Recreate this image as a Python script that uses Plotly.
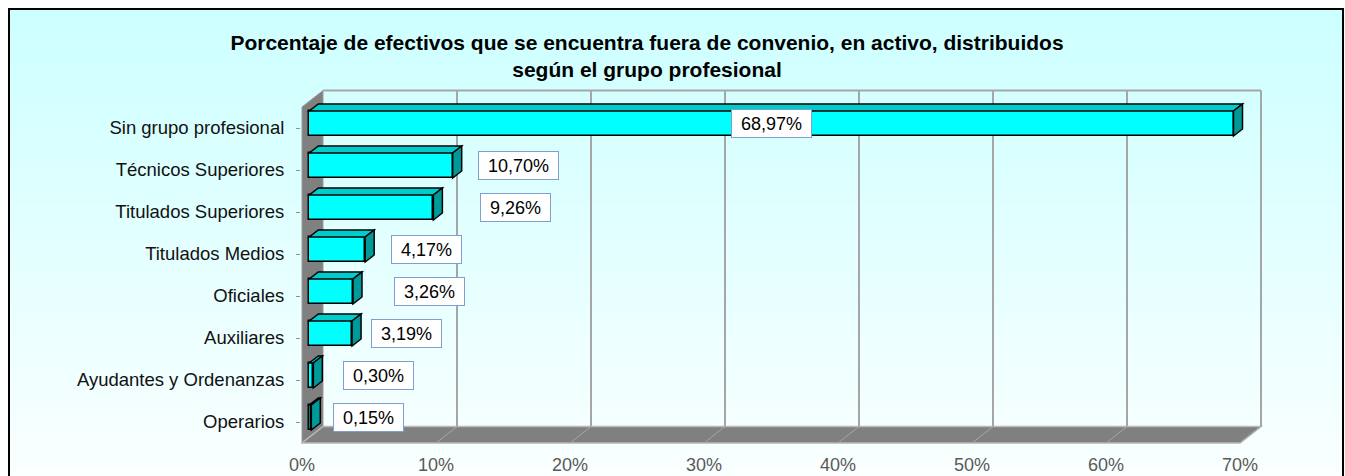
import plotly.graph_objects as go

# ---------------- data ----------------
categories = [
    "Sin grupo profesional",
    "Técnicos Superiores",
    "Titulados Superiores",
    "Titulados Medios",
    "Oficiales",
    "Auxiliares",
    "Ayudantes y Ordenanzas",
    "Operarios",
]
values = [68.97, 10.70, 9.26, 4.17, 3.26, 3.19, 0.30, 0.15]
value_labels = ["68,97%", "10,70%", "9,26%", "4,17%", "3,26%", "3,19%", "0,30%", "0,15%"]
x_ticks = [0, 10, 20, 30, 40, 50, 60, 70]
x_tick_labels = ["0%", "10%", "20%", "30%", "40%", "50%", "60%", "70%"]
title_text = ("Porcentaje de efectivos que se encuentra fuera de convenio, en activo, distribuidos"
              "<br>según el grupo profesional")

# manual label placement of the original chart: distance (in % units) from the bar end
# to the label centre; None = centred inside the bar
label_gap = [None, 4.9, 6.1, 4.6, 5.7, 4.05, 4.9, 4.3]

# ---------------- geometry / style ----------------
W, H = 1345, 476
FONT = "Liberation Sans, Arial, sans-serif"
PXX = 13.4          # px per 1 %
PXY = 42.0          # px per category
X0, Y0 = 302.0, 128.0   # px of 0 % / first category on the front plane
WALL_DX, WALL_DY = 21.0, 16.5
BAR_FRONT_DX, BAR_FRONT_DY = 7.3, 4.5
BAR_DX, BAR_DY = 9.0, 7.0
BAR_H = 25.0
PLOT_L, PLOT_R, PLOT_T, PLOT_B = 301.0, 1265.0, 87.0, 446.0

def fx(px):
    return (px - X0) / PXX

def fy(px):
    return (px - Y0) / PXY

n = len(categories)
pos = list(range(n))
wdx, wdy = WALL_DX / PXX, WALL_DY / PXY
bdx, bdy = BAR_DX / PXX, BAR_DY / PXY
base = BAR_FRONT_DX / PXX
shift = BAR_FRONT_DY / PXY
hh = BAR_H / 2 / PXY
front_top, front_bot = -0.5, n - 0.5
vmax = x_ticks[-1]

GRID = "#A6A6A6"
WALLC = "#808080"

def poly(pts):
    return "M " + " L ".join(f"{x},{y}" for x, y in pts) + " Z"

shapes = []

# background gradient (inside the black frame)
FR_L, FR_R, FR_T = 9, 1343, 9
nb = 60
top_c = (204, 255, 255)
bot_c = (250, 255, 255)
band_h = (H - FR_T) / nb
for k in range(nb):
    t = (k + 0.5) / nb
    c = tuple(round(top_c[j] + (bot_c[j] - top_c[j]) * t) for j in range(3))
    y_top = FR_T + k * band_h
    shapes.append(dict(type="rect", xref="paper", yref="paper", layer="below",
                       x0=FR_L / W, x1=FR_R / W,
                       y0=1 - (y_top + band_h + 0.6) / H, y1=1 - y_top / H,
                       line=dict(width=0), fillcolor=f"rgb{c}"))
# frame
shapes.append(dict(type="rect", xref="paper", yref="paper", layer="below",
                   x0=FR_L / W, x1=FR_R / W, y0=-0.05, y1=1 - FR_T / H,
                   line=dict(color="black", width=2), fillcolor="rgba(0,0,0,0)"))

# side wall
shapes.append(dict(type="path", xref="x", yref="y", layer="below",
                   path=poly([(0, front_bot), (0, front_top), (wdx, front_top - wdy), (wdx, front_bot - wdy)]),
                   fillcolor=WALLC, line=dict(color="#9A9A9A", width=1)))
# floor
shapes.append(dict(type="path", xref="x", yref="y", layer="below",
                   path=poly([(0, front_bot), (vmax, front_bot), (vmax + wdx, front_bot - wdy), (wdx, front_bot - wdy)]),
                   fillcolor=WALLC, line=dict(color="#B8B8B8", width=1.5)))
# back wall top edge
shapes.append(dict(type="line", xref="x", yref="y", layer="below",
                   x0=wdx, x1=vmax + wdx, y0=front_top - wdy, y1=front_top - wdy,
                   line=dict(color=GRID, width=2)))
# back wall gridlines and floor diagonals
for t in x_ticks:
    if t > 0:
        shapes.append(dict(type="line", xref="x", yref="y", layer="below",
                           x0=t + wdx, x1=t + wdx, y0=front_bot - wdy, y1=front_top - wdy,
                           line=dict(color=GRID, width=2)))
        shapes.append(dict(type="line", xref="x", yref="y", layer="below",
                           x0=t, x1=t + wdx, y0=front_bot, y1=front_bot - wdy,
                           line=dict(color="#A8A8A8", width=1)))

# bar top and side faces
for i, v in enumerate(values):
    yc = i - shift
    yt, yb = yc - hh, yc + hh
    x1 = base + v
    shapes.append(dict(type="path", xref="x", yref="y", layer="above",
                       path=poly([(base, yt), (x1, yt), (x1 + bdx, yt - bdy), (base + bdx, yt - bdy)]),
                       fillcolor="#00CCCC", line=dict(color="black", width=1.5)))
    shapes.append(dict(type="path", xref="x", yref="y", layer="above",
                       path=poly([(x1, yt), (x1 + bdx, yt - bdy), (x1 + bdx, yb - bdy), (x1, yb)]),
                       fillcolor="#009999", line=dict(color="black", width=1.5)))

fig = go.Figure()
fig.add_trace(go.Bar(
    y=pos, x=values, base=base, orientation="h",
    width=2 * hh, offset=-hh - shift,
    marker=dict(color="#00FFFF", line=dict(color="black", width=1.5)),
    hovertext=categories, hoverinfo="text+x", showlegend=False,
))

annotations = []
for i, (v, lab) in enumerate(zip(values, value_labels)):
    gap = label_gap[i]
    xc = base + v / 2 if gap is None else base + v + gap
    annotations.append(dict(
        x=xc, y=i - shift, xref="x", yref="y", text=lab, showarrow=False,
        font=dict(family=FONT, size=18, color="black"),
        bgcolor="white", bordercolor="#7F9FD3", borderwidth=1, borderpad=2,
        width=10 * len(lab) + 15, height=23,
        xanchor="center", yanchor="middle",
    ))

fig.update_layout(
    template="none",
    width=W, height=H, autosize=False,
    margin=dict(l=0, r=0, t=0, b=0, pad=0),
    paper_bgcolor="white",
    plot_bgcolor="rgba(0,0,0,0)",
    title=dict(text=title_text, x=647 / W, y=1 - 50 / H, xanchor="center", yanchor="middle",
               font=dict(family=FONT, size=21, color="black", weight="bold")),
    xaxis=dict(domain=[PLOT_L / W, PLOT_R / W], range=[fx(PLOT_L), fx(PLOT_R)],
               tickvals=x_ticks, ticktext=x_tick_labels, showgrid=False, zeroline=False,
               showline=False, ticks="", ticklabelstandoff=6, automargin=False,
               tickfont=dict(family=FONT, size=18, color="#595959"), fixedrange=True),
    yaxis=dict(domain=[1 - PLOT_B / H, 1 - PLOT_T / H], range=[fy(PLOT_B), fy(PLOT_T)],
               tickvals=pos, ticktext=categories, showgrid=False, zeroline=False,
               showline=False, ticks="outside", ticklen=4, tickcolor="#909090", tickwidth=1,
               ticklabelstandoff=8, automargin=False,
               tickfont=dict(family=FONT, size=18.5, color="#111111"), fixedrange=True),
    shapes=shapes,
    annotations=annotations,
    bargap=0,
    showlegend=False,
)

fig.write_html(
    "out.html",
    config={"displayModeBar": False},
    post_script="document.body.style.margin='0';document.body.style.padding='0';"
                "document.body.style.overflow='hidden';",
)
